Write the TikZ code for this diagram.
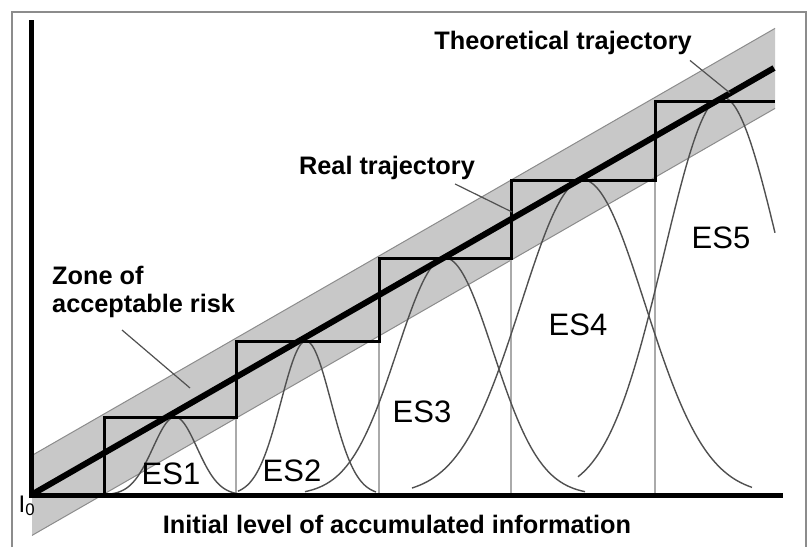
\documentclass[tikz,border=0pt]{standalone}
\usepackage{fontspec}
\setmainfont{Liberation Sans}
\definecolor{bandgray}{RGB}{200,200,200}
\definecolor{bandedge}{RGB}{140,140,140}
\definecolor{bellgray}{RGB}{80,80,80}
\definecolor{guidegray}{RGB}{170,170,170}
\definecolor{framegray}{RGB}{140,140,140}
\begin{document}
\begin{tikzpicture}[x=1pt,y=-1pt,
  bandfill/.style={fill=bandgray},
  bandline/.style={draw=bandedge, line width=1pt},
  axisline/.style={line width=5pt, black, line join=miter},
  stair/.style={line width=3pt, black, line join=miter},
  guide/.style={line width=1.5pt, guidegray},
  bell/.style={line width=1.4pt, bellgray, smooth},
  leader/.style={line width=1.2pt, bellgray},
  boldlabel/.style={font=\fontsize{25.3}{28}\selectfont\bfseries, inner sep=0pt},
  eslabel/.style={font=\fontsize{31}{34}\selectfont, inner sep=0pt}]
\useasboundingbox (0,0) rectangle (809,547);
\fill[white] (0,0) rectangle (809,547);
% outer frame
\draw[framegray, line width=2pt] (12,547) -- (12,12) -- (806,12) -- (806,547);

% zone of acceptable risk (band around the theoretical trajectory)
\coordinate (bandA) at (32,455.4);
\coordinate (bandB) at (775,28.4);
\coordinate (bandC) at (775,108.4);
\coordinate (bandD) at (32,535.4);
\fill[bandfill] (bandA) -- (bandB) -- (bandC) -- (bandD) -- cycle;
\draw[bandline] (bandA) -- (bandB);
\draw[bandline] (bandD) -- (bandC);

% thin guides under each step
\draw[guide] (236,417) -- (236,495);
\draw[guide] (379,341) -- (379,495);
\draw[guide] (511,258) -- (511,495);
\draw[guide] (655,180) -- (655,495);

% expert-state distributions ES1..ES5
\draw[bell] plot[domain=112:238, samples=60] (\x,{495-78*exp(-0.5*((\x-175)/22)^2)});
\draw[bell] plot[domain=238:376, samples=60] (\x,{495-154*exp(-0.5*((\x-306)/25)^2)});
\draw[bell] plot[domain=305:585, samples=80] (\x,{495-237*exp(-0.5*((\x-445)/48)^2)});
\draw[bell] plot[domain=412:752, samples=90] (\x,{495-315*exp(-0.5*((\x-583)/62)^2)});
\draw[bell] plot[domain=578:775, samples=70] (\x,{495-398*exp(-0.5*((\x-722)/58)^2)});

% real trajectory (staircase)
\draw[stair] (104,495) -- (104,417) -- (236,417) -- (236,341) -- (379,341)
  -- (379,258) -- (511,258) -- (511,180) -- (655,180) -- (655,101) -- (775,101);

% theoretical trajectory
\coordinate (t0) at (31,495);
\coordinate (t1) at (774,68);
\draw[line width=6pt] (t0) -- (t1);

% axes
\draw[axisline] (31,20) -- (31,495) -- (783,495);

% labels
\node[font=\fontsize{24}{24}\selectfont, inner sep=0pt, anchor=base] (izero) at (27,512) {I\textsubscript{0}};
\node[boldlabel] (xlab) at (397,524) {Initial level of accumulated information};
\node[boldlabel, anchor=base east] (theo) at (692,49) {Theoretical trajectory};
\node[boldlabel] (real) at (387,168) {Real trajectory};
\node[boldlabel, align=left, anchor=north west] (zone) at (52,266) {Zone of\\acceptable risk};

\node[eslabel] (es1) at (171,474) {ES1};
\node[eslabel] (es2) at (292,471) {ES2};
\node[eslabel] (es3) at (422,412) {ES3};
\node[eslabel] (es4) at (578,325) {ES4};
\node[eslabel] (es5) at (721,238) {ES5};

% leader lines
\coordinate (zoneend) at (190,388);
\coordinate (theoend) at (730,93);
\coordinate (realend) at (512,212);
\draw[leader] (122,330) -- (zoneend);
\draw[leader] (theo.south east) ++(-2,6) -- (theoend);
\draw[leader] (real.south east) ++(-20,4) -- (realend);
\end{tikzpicture}
\end{document}
